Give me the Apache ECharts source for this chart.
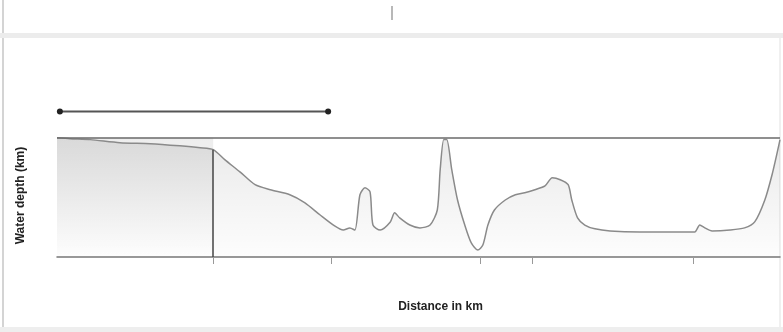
<!DOCTYPE html>
<html>
<head>
<meta charset="utf-8">
<script src="https://cdn.jsdelivr.net/npm/echarts@6/dist/echarts.min.js"></script>
<style>
  html, body { margin: 0; padding: 0; background: #fff; }
  #chart { width: 783px; height: 332px; }
</style>
</head>
<body>
<div id="chart"></div>
<script>
// Bathymetric profile: distance along section (km) vs water depth (km)
const distanceKm = [0, 18, 46, 87, 129, 170, 198, 216, 232, 253, 274, 295, 322, 343, 364, 384, 396, 405, 412,
	419, 426, 433, 437, 447, 461, 467, 474, 488, 502, 516, 526, 530, 535, 539, 546, 554, 564, 573, 582, 589,
	596, 605, 620, 634, 647, 661, 675, 685, 696, 707, 712, 720, 730, 744, 765, 806, 848, 882, 889, 896, 906,
	931, 951, 965, 979, 989, 997, 1000];
const depthKm = [0, 0.04, 0.08, 0.21, 0.25, 0.34, 0.42, 0.5, 0.92, 1.43, 1.97, 2.18, 2.39, 2.73, 3.24, 3.7, 3.87, 3.78, 3.87,
	2.39, 2.1, 2.27, 3.66, 3.87, 3.53, 3.15, 3.36, 3.66, 3.78, 3.66, 3.03, 1.34, 0.08, 0.08, 1.34, 2.61, 3.66, 4.41, 4.71, 4.5,
	3.66, 3.03, 2.61, 2.39, 2.31, 2.18, 2.02, 1.68, 1.76, 1.97, 2.61, 3.36, 3.66, 3.82, 3.91, 3.95, 3.95, 3.95, 3.66, 3.78, 3.91,
	3.87, 3.78, 3.53, 2.61, 1.55, 0.5, 0.08];

// Section range bar drawn above the sea surface
const rangeKm = [4, 375];
const rangeLevel = -1.1;

// Marked positions on the distance axis
const tickKm = [216, 380, 585, 657, 880];
const dividerKm = 216;

const chart = echarts.init(document.getElementById('chart'), undefined, { renderer: 'canvas' });

const profile = distanceKm.map((d, i) => [d, depthKm[i]]);
const dividerDepth = depthKm[distanceKm.indexOf(dividerKm)];

chart.setOption({
	backgroundColor: '#fff',
	animation: false,
	grid: { left: 57, right: 3, top: 90, bottom: 75 },
	graphic: [
		{ type: 'rect', shape: { x: 2, y: 0, width: 2, height: 332 }, style: { fill: '#d4d4d4' } },
		{ type: 'rect', shape: { x: 0, y: 33, width: 783, height: 5 }, style: { fill: '#ececec' } },
		{ type: 'rect', shape: { x: 391, y: 6, width: 2, height: 14 }, style: { fill: '#b8b8b8' } },
		{ type: 'rect', shape: { x: 779, y: 38, width: 2, height: 290 }, style: { fill: '#f0f0f0' } },
		{ type: 'rect', shape: { x: 0, y: 327, width: 783, height: 5 }, style: { fill: '#eeeeee' } },
	],
	xAxis: {
		type: 'value',
		min: 0,
		max: 1000,
		name: 'Distance in km',
		nameLocation: 'middle',
		nameGap: 44,
		nameTextStyle: { color: '#222', fontSize: 12, fontWeight: 'bold', fontFamily: 'Liberation Sans', padding: [0, 0, 0, 44] },
		axisLine: { onZero: false, lineStyle: { color: '#777', width: 1.5 } },
		axisTick: { show: true, customValues: tickKm, length: 7, inside: false, lineStyle: { color: '#999' } },
		axisLabel: { show: false },
		splitLine: { show: false },
	},
	yAxis: {
		type: 'value',
		inverse: true,
		min: -2,
		max: 5,
		name: 'Water depth (km)',
		nameLocation: 'middle',
		nameGap: 30,
		nameTextStyle: { color: '#222', fontSize: 12, fontWeight: 'bold', fontFamily: 'Liberation Sans', padding: [0, 0, 0, -44] },
		axisLine: { show: false },
		axisTick: { show: false },
		axisLabel: { show: false },
		splitLine: { show: false },
	},
	series: [
		{
			type: 'line',
			data: profile,
			symbol: 'none',
			smooth: 0.25,
			lineStyle: { color: '#8a8a8a', width: 1.5 },
			areaStyle: {
				origin: 'end',
				color: new echarts.graphic.LinearGradient(0, 0, 0, 1, [
					{ offset: 0, color: 'rgba(0,0,0,0.12)' },
					{ offset: 1, color: 'rgba(0,0,0,0.01)' },
				]),
			},
			markArea: {
				silent: true,
				itemStyle: {
					color: new echarts.graphic.LinearGradient(0, 0, 0, 1, [
						{ offset: 0, color: 'rgba(0,0,0,0.07)' },
						{ offset: 1, color: 'rgba(0,0,0,0)' },
					]),
				},
				data: [[{ coord: [0, 0] }, { coord: [dividerKm, 5] }]],
			},
			markLine: {
				silent: true,
				symbol: 'none',
				label: { show: false },
				data: [
					[{ coord: [0, 0], lineStyle: { color: '#6a6a6a', width: 1.5, type: 'solid' } },
						{ coord: [1000, 0] }],
					[{ coord: [dividerKm, dividerDepth], lineStyle: { color: '#444', width: 1.5, type: 'solid' } },
						{ coord: [dividerKm, 5] }],
				],
			},
		},
		{
			type: 'line',
			data: rangeKm.map((d) => [d, rangeLevel]),
			symbol: 'circle',
			symbolSize: 6,
			itemStyle: { color: '#222' },
			lineStyle: { color: '#555', width: 2 },
		},
	],
});

window.addEventListener('resize', () => chart.resize());
</script>
</body>
</html>
